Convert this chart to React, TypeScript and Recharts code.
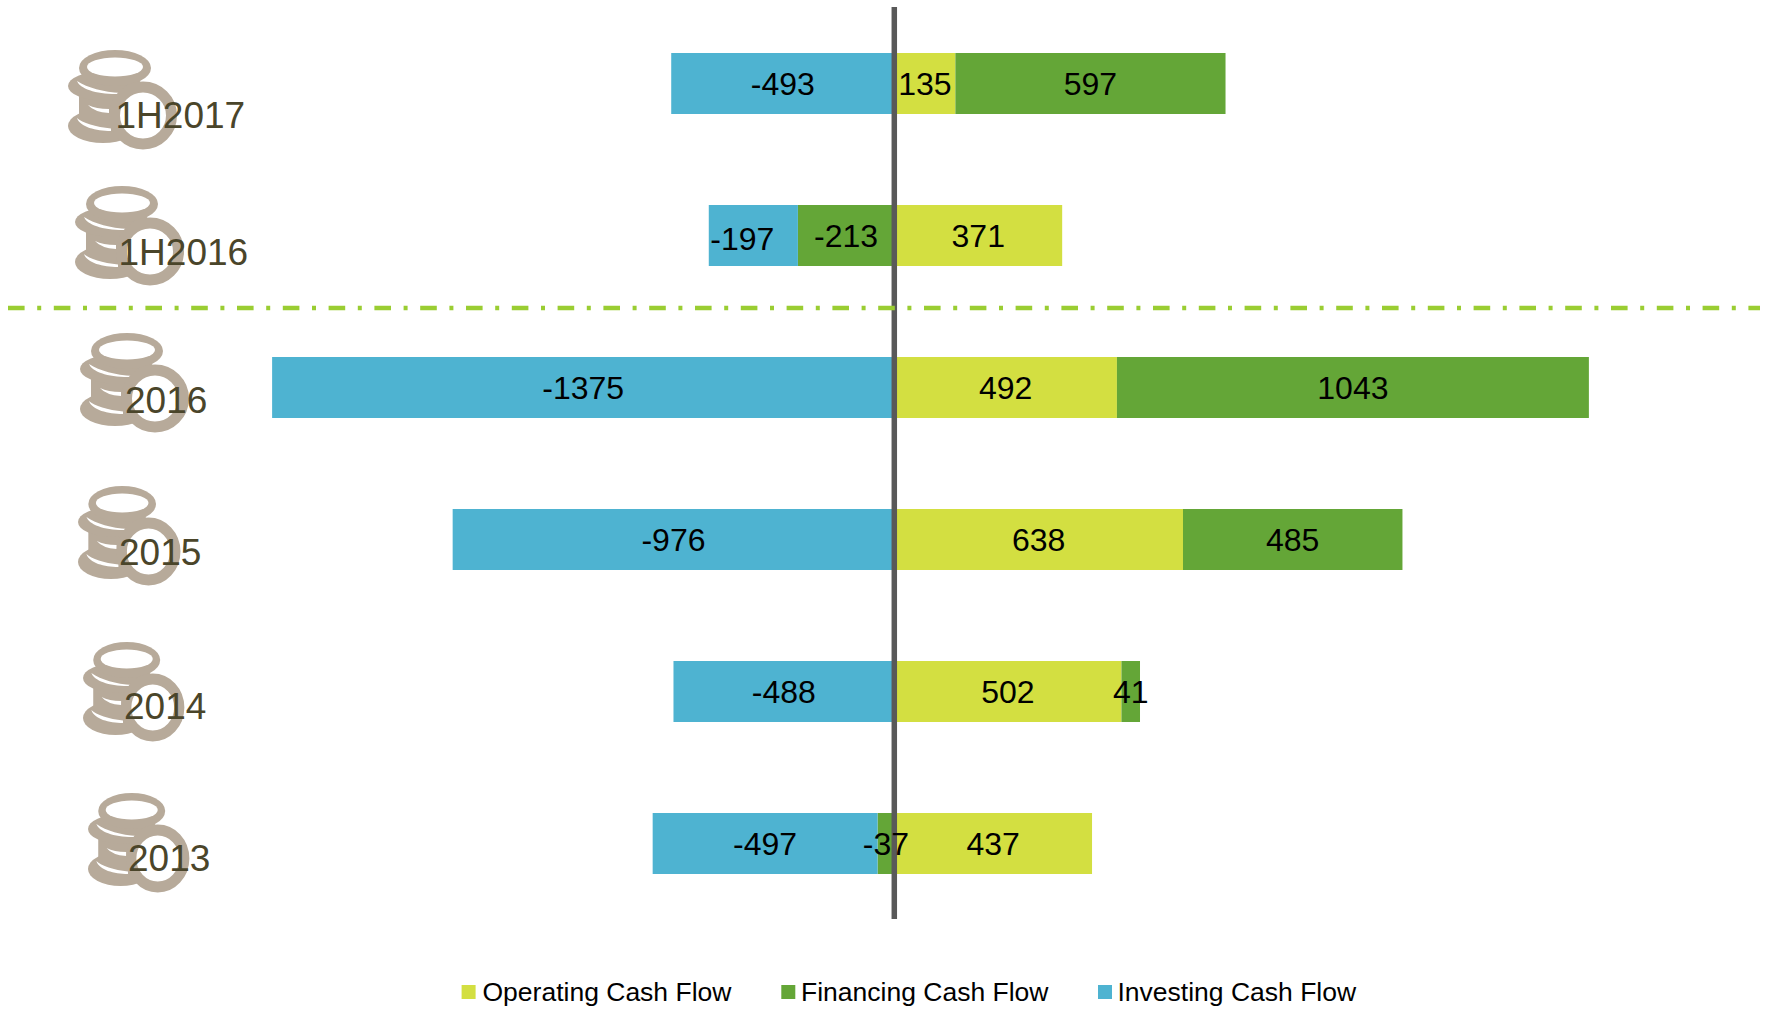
import React from "react";
import { BarChart, Bar, XAxis, YAxis, ReferenceLine, LabelList, Customized } from "recharts";

const periods = ["1H2017", "1H2016", "2016", "2015", "2014", "2013"];
const operating = [135, 371, 492, 638, 502, 437];
const financing = [597, -213, 1043, 485, 41, -37];
const investing = [-493, -197, -1375, -976, -488, -497];

const rows = periods.map((period, i) => ({
  period,
  operating: operating[i],
  financing: financing[i],
  investing: investing[i],
}));

const seriesKeys = [
  { key: "operating", name: "Operating Cash Flow", color: "#D3DF41" },
  { key: "financing", name: "Financing Cash Flow", color: "#64A637" },
  { key: "investing", name: "Investing Cash Flow", color: "#4EB3D1" },
];

// Hand placement of each row's coin icon and caption.
const iconLeft = [68, 75, 80, 78, 83, 88];
const iconTop = [50, 186, 333, 486, 642, 793];
const iconWidthScale = [1, 1, 1, 0.94, 0.93, 0.93];
const captionLeft = [115.5, 118.5, 125, 119, 124, 128];
const captionBaseline = [128, 265, 413, 565, 719, 871];

const FONT = '"Liberation Sans", Arial, sans-serif';
const TAN = "#B7AA9A";
const CHART_MARGIN = { top: 7, bottom: 90, left: 33.55, right: 11.95 };

function Coins({ x, y, scaleX }: { x: number; y: number; scaleX: number }) {
  return (
    <g transform={`translate(${x},${y}) scale(${scaleX},1)`}>
      <ellipse cx={35} cy={76} rx={35} ry={17} fill={TAN} />
      <rect x={11} y={44} width={40} height={24} fill={TAN} />
      <ellipse cx={37} cy={36} rx={37} ry={15} fill={TAN} />
      <ellipse cx={47} cy={18} rx={36} ry={18} fill={TAN} />
      <ellipse cx={47} cy={17} rx={28} ry={9.5} fill="#fff" />
      <path d="M9 31 C12 39 30 45 53 44 L53 43 C35 42 20 38 9 31 Z" fill="#fff" />
      <path d="M20 55 Q28 59 41 59 L41 63 Q26 62 20 55 Z" fill="#fff" />
      <path d="M9 68 C14 73 28 77 43 78.5 L43 81 C28 81 12 77 9 68 Z" fill="#fff" />
      <circle cx={75} cy={65.5} r={28.5} fill="#fff" stroke={TAN} strokeWidth={11} />
    </g>
  );
}

function PeriodTick(props: any) {
  const i = props.index as number;
  return (
    <g>
      <Coins x={iconLeft[i]} y={iconTop[i]} scaleX={iconWidthScale[i]} />
      <text x={captionLeft[i]} y={captionBaseline[i]} fontFamily={FONT} fontSize={37} fill="#4A452A">
        {periods[i]}
      </text>
    </g>
  );
}

function BarValue(props: any) {
  const { x, y, width, height, value } = props;
  if (value === undefined || value === null) return null;
  // The -197 caption sits off centre so that it stays inside its short segment.
  const nudgeX = value === -197 ? -11 : 0;
  const nudgeY = value === -197 ? 3 : 0;
  return (
    <text
      x={Number(x) + Number(width) / 2 + nudgeX}
      y={Number(y) + Number(height) / 2 + 11.5 + nudgeY}
      textAnchor="middle"
      fontFamily={FONT}
      fontSize={32}
      fill="#000"
    >
      {value}
    </text>
  );
}

function PeriodDivider() {
  return (
    <line
      x1={8}
      x2={1760}
      y1={308}
      y2={308}
      stroke="#9ACD32"
      strokeWidth={4.3}
      strokeDasharray="16.6 12.6 4 12.6"
    />
  );
}

const legendSwatches = [461.6, 781.3, 1098];
const legendCaptions = [482.5, 801, 1117.5];

function CashFlowLegend() {
  return (
    <g>
      {seriesKeys.map((s, i) => (
        <g key={s.key}>
          <rect x={legendSwatches[i]} y={985} width={14} height={14} fill={s.color} />
          <text x={legendCaptions[i]} y={1001} fontFamily={FONT} fontSize={26.5} fill="#000">
            {s.name}
          </text>
        </g>
      ))}
    </g>
  );
}

const layerStyle: React.CSSProperties = { position: "absolute", left: 0, top: 0 };

export default function App() {
  return (
    <div style={{ position: "absolute", left: 0, top: 0, width: 1766, height: 1009, background: "#fff" }}>
      {/* Coloured segments and the zero line */}
      <div style={layerStyle}>
        <BarChart
          width={1766}
          height={1009}
          data={rows}
          layout="vertical"
          stackOffset="sign"
          barSize={61}
          margin={CHART_MARGIN}
        >
          <XAxis type="number" domain={[-1900, 1900]} hide />
          <YAxis
            type="category"
            dataKey="period"
            width={1}
            axisLine={false}
            tickLine={false}
            tick={(p: any) => <PeriodTick {...p} />}
            interval={0}
          />
          {seriesKeys.map((s) => (
            <Bar key={s.key} dataKey={s.key} name={s.name} stackId="cash" fill={s.color} isAnimationActive={false} />
          ))}
          <ReferenceLine x={0} stroke="#595959" strokeWidth={5.5} />
        </BarChart>
      </div>
      {/* Value captions, the period divider and the legend, above the zero line */}
      <div style={layerStyle}>
        <BarChart
          width={1766}
          height={1009}
          data={rows}
          layout="vertical"
          stackOffset="sign"
          barSize={61}
          margin={CHART_MARGIN}
        >
          <XAxis type="number" domain={[-1900, 1900]} hide />
          <YAxis type="category" dataKey="period" width={1} axisLine={false} tickLine={false} tick={false} />
          {seriesKeys.map((s) => (
            <Bar key={s.key} dataKey={s.key} stackId="cash" fill="none" isAnimationActive={false}>
              <LabelList dataKey={s.key} content={<BarValue />} />
            </Bar>
          ))}
          <Customized component={PeriodDivider} />
          <Customized component={CashFlowLegend} />
        </BarChart>
      </div>
    </div>
  );
}
